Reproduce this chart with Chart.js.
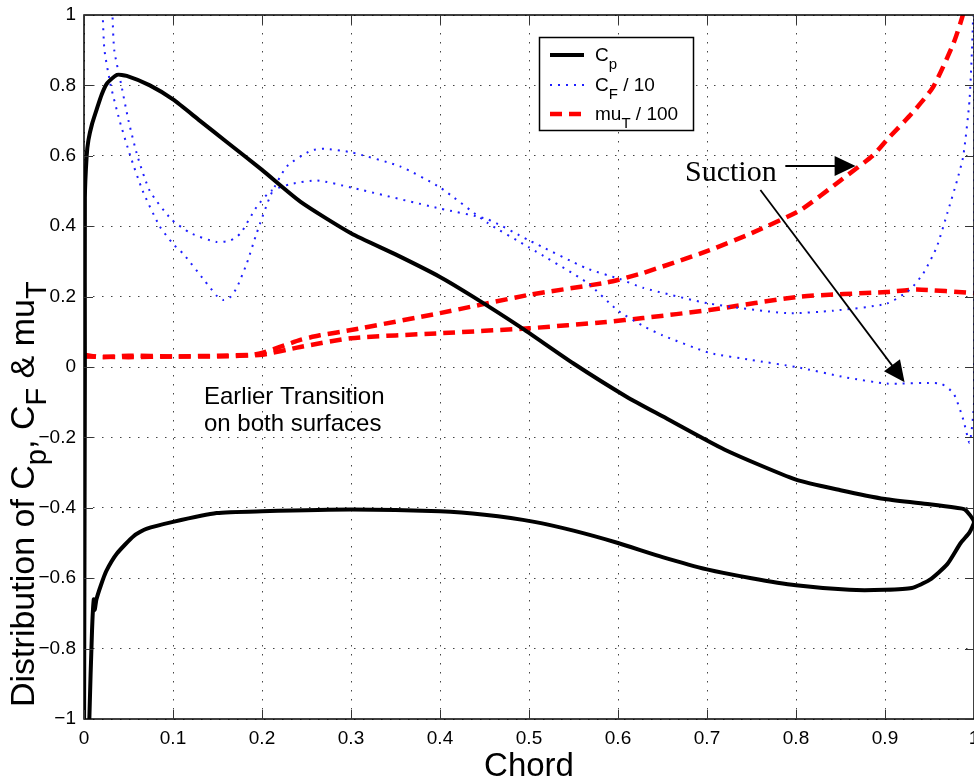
<!DOCTYPE html>
<html>
<head>
<meta charset="utf-8">
<script src="https://cdn.jsdelivr.net/npm/chart.js@4/dist/chart.umd.min.js"></script>
<style>
  body { margin: 0; background: #fff; }
  #graph { display: block; }
</style>
</head>
<body>
<canvas id="graph" width="974" height="782"></canvas>
<script>
// Cp: one closed loop, upper side then back along the lower side
const cpX = [0.000, 0.001, 0.001, 0.003, 0.005, 0.009, 0.014, 0.020, 0.026, 0.037, 0.048, 0.074, 0.100, 0.130, 0.160, 0.200, 0.243, 0.300, 0.350, 0.400, 0.437, 0.490, 0.550, 0.610, 0.650, 0.720, 0.800, 0.850, 0.900, 0.950, 0.980, 0.990, 1.000,
             0.995, 0.985, 0.970, 0.950, 0.930, 0.900, 0.860, 0.800, 0.750, 0.700, 0.650, 0.600, 0.550, 0.506, 0.450, 0.400, 0.300, 0.200, 0.149, 0.100, 0.070, 0.056, 0.037, 0.025, 0.019, 0.014, 0.012, 0.011, 0.009, 0.006, 0.005];
const cpY = [-1.10, 0.00, 0.48, 0.60, 0.645, 0.69, 0.73, 0.775, 0.806, 0.83, 0.827, 0.80, 0.76, 0.70, 0.64, 0.56, 0.47, 0.38, 0.32, 0.256, 0.20, 0.114, 0.01, -0.085, -0.14, -0.235, -0.32, -0.35, -0.375, -0.39, -0.40, -0.405, -0.44,
             -0.47, -0.50, -0.56, -0.605, -0.628, -0.633, -0.633, -0.62, -0.60, -0.575, -0.54, -0.50, -0.465, -0.44, -0.42, -0.41, -0.405, -0.41, -0.415, -0.44, -0.46, -0.48, -0.53, -0.58, -0.62, -0.66, -0.69, -0.66, -0.75, -1.00, -1.20];

// Cf / 10, first surface (peak near 0.62)
const cfAX = [0.000, 0.000, 0.019, 0.021, 0.023, 0.030, 0.040, 0.052, 0.066, 0.085, 0.100, 0.112, 0.135, 0.150, 0.157, 0.165, 0.172, 0.183, 0.194, 0.210, 0.228, 0.255, 0.270, 0.300, 0.355, 0.400, 0.453, 0.500, 0.565, 0.600, 0.628, 0.650, 0.703, 0.750, 0.800, 0.857, 0.902, 0.962, 0.977, 0.988, 0.995, 1.000, 1.000];
const cfAY = [-1.20, 1.60, 1.10, 1.00, 0.90, 0.80, 0.70, 0.60, 0.50, 0.40, 0.35, 0.32, 0.247, 0.20, 0.19, 0.20, 0.227, 0.295, 0.38, 0.49, 0.57, 0.615, 0.62, 0.61, 0.57, 0.51, 0.41, 0.34, 0.24, 0.16, 0.117, 0.09, 0.04, 0.02, 0.00, -0.03, -0.047, -0.047, -0.075, -0.15, -0.215, -0.10, 1.50];

// Cf / 10, second surface (plateau near 0.53)
const cfBX = [0.000, 0.030, 0.032, 0.034, 0.042, 0.050, 0.060, 0.074, 0.098, 0.120, 0.149, 0.165, 0.176, 0.194, 0.210, 0.233, 0.262, 0.300, 0.400, 0.453, 0.500, 0.565, 0.602, 0.628, 0.703, 0.790, 0.842, 0.902, 0.928, 0.943, 0.958, 0.970, 0.981, 0.988, 0.995, 0.999, 1.000];
const cfBY = [1.60, 1.15, 1.00, 0.90, 0.80, 0.70, 0.60, 0.50, 0.42, 0.38, 0.355, 0.36, 0.38, 0.455, 0.50, 0.52, 0.53, 0.51, 0.45, 0.42, 0.36, 0.28, 0.25, 0.225, 0.18, 0.153, 0.16, 0.18, 0.22, 0.266, 0.34, 0.437, 0.53, 0.60, 0.76, 1.00, 1.50];

// mu_T / 100, suction side
const muAX = [0.000, 0.020, 0.050, 0.100, 0.150, 0.190, 0.200, 0.220, 0.243, 0.265, 0.300, 0.400, 0.500, 0.587, 0.628, 0.703, 0.750, 0.805, 0.850, 0.886, 0.902, 0.930, 0.954, 0.977, 0.988, 0.995];
const muAY = [0.035, 0.028, 0.032, 0.030, 0.032, 0.035, 0.040, 0.057, 0.077, 0.090, 0.105, 0.153, 0.205, 0.240, 0.267, 0.332, 0.380, 0.446, 0.530, 0.600, 0.645, 0.720, 0.795, 0.920, 1.005, 1.100];

// mu_T / 100, pressure side
const muBX = [0.000, 0.050, 0.100, 0.150, 0.200, 0.243, 0.300, 0.400, 0.500, 0.587, 0.628, 0.703, 0.805, 0.902, 0.936, 1.000];
const muBY = [0.030, 0.028, 0.030, 0.030, 0.035, 0.057, 0.082, 0.096, 0.110, 0.128, 0.139, 0.162, 0.200, 0.213, 0.220, 0.210];

const xTicks = [0, 0.1, 0.2, 0.3, 0.4, 0.5, 0.6, 0.7, 0.8, 0.9, 1];
const yTicks = [-1, -0.8, -0.6, -0.4, -0.2, 0, 0.2, 0.4, 0.6, 0.8, 1];

// annotation arrows in data units: [x0, y0, x1, y1]
const arrows = [
    [0.788, 0.571, 0.867, 0.571],
    [0.760, 0.503, 0.922, -0.043]
];

function pts(xs, ys) {
    return xs.map((x, i) => ({ x: x, y: ys[i] }));
}

function fmt(v) {
    let r = Math.round(v * 10) / 10;
    if (r === 0) return '0';
    let s = Math.abs(r) === 1 ? '1' : Math.abs(r).toFixed(1);
    return (r < 0 ? '\u2212' : '') + s;
}

const FONT = '"Liberation Sans", Arial, sans-serif';
const BLUE = 'rgb(30,30,255)';
const RED = 'rgb(255,0,0)';
const cfDash = [2, 6];
const muDash = [12, 7];

// subscripted text along the current baseline
function drawSub(ctx, parts, x, y, big, small, drop) {
    parts.forEach(p => {
        if (p[1]) {
            ctx.font = small + 'px ' + FONT;
            ctx.fillText(p[0], x, y + drop);
        } else {
            ctx.font = big + 'px ' + FONT;
            ctx.fillText(p[0], x, y);
        }
        x += ctx.measureText(p[0]).width;
    });
}

function arrowHead(ctx, x0, y0, x1, y1, len, half) {
    let a = Math.atan2(y1 - y0, x1 - x0);
    ctx.beginPath();
    ctx.moveTo(x1, y1);
    ctx.lineTo(x1 - len * Math.cos(a) + half * Math.sin(a), y1 - len * Math.sin(a) - half * Math.cos(a));
    ctx.lineTo(x1 - len * Math.cos(a) - half * Math.sin(a), y1 - len * Math.sin(a) + half * Math.cos(a));
    ctx.closePath();
    ctx.fill();
}

const decorations = {
    id: 'decorations',
    afterDatasetsDraw(chart) {
        const ctx = chart.ctx;
        const area = chart.chartArea;
        const xs = chart.scales.x, ys = chart.scales.y;
        ctx.save();

        // axes box
        ctx.strokeStyle = '#000';
        ctx.lineWidth = 1.5;
        ctx.strokeRect(area.left, area.top, area.right - area.left, area.bottom - area.top);

        // inward ticks on all sides
        ctx.lineWidth = 1;
        ctx.strokeStyle = '#333';
        ctx.beginPath();
        xTicks.forEach(v => {
            let p = Math.round(xs.getPixelForValue(v)) + 0.5;
            ctx.moveTo(p, area.bottom); ctx.lineTo(p, area.bottom - 9);
            ctx.moveTo(p, area.top); ctx.lineTo(p, area.top + 9);
        });
        yTicks.forEach(v => {
            let p = Math.round(ys.getPixelForValue(v)) + 0.5;
            ctx.moveTo(area.left, p); ctx.lineTo(area.left + 9, p);
            ctx.moveTo(area.right, p); ctx.lineTo(area.right - 9, p);
        });
        ctx.stroke();

        // annotation text
        ctx.fillStyle = '#000';
        ctx.textBaseline = 'alphabetic';
        ctx.textAlign = 'left';
        ctx.font = '24px ' + FONT;
        ctx.fillText('Earlier Transition', 204, 404);
        ctx.fillText('on both surfaces', 204, 431);
        ctx.font = '30px "Liberation Serif", "Times New Roman", serif';
        ctx.fillText('Suction', 685, 181);

        // arrows
        ctx.strokeStyle = '#000';
        ctx.lineWidth = 1.8;
        arrows.forEach(a => {
            let x0 = xs.getPixelForValue(a[0]), y0 = ys.getPixelForValue(a[1]);
            let x1 = xs.getPixelForValue(a[2]), y1 = ys.getPixelForValue(a[3]);
            let ang = Math.atan2(y1 - y0, x1 - x0);
            ctx.beginPath();
            ctx.moveTo(x0, y0);
            ctx.lineTo(x1 - 15 * Math.cos(ang), y1 - 15 * Math.sin(ang));
            ctx.stroke();
            arrowHead(ctx, x0, y0, x1, y1, 21, 10);
        });

        // legend
        ctx.fillStyle = '#fff';
        ctx.fillRect(539, 37, 154, 93);
        ctx.strokeStyle = '#000';
        ctx.lineWidth = 1.5;
        ctx.strokeRect(539.5, 37.5, 154, 93);
        const rows = [
            { y: 55, color: '#000', width: 4, dash: [], text: [['C', 0], ['p', 1]] },
            { y: 85, color: BLUE, width: 2, dash: cfDash, text: [['C', 0], ['F', 1], [' / 10', 0]] },
            { y: 114, color: RED, width: 4.5, dash: muDash, text: [['mu', 0], ['T', 1], [' / 100', 0]] }
        ];
        rows.forEach(r => {
            ctx.strokeStyle = r.color;
            ctx.lineWidth = r.width;
            ctx.setLineDash(r.dash);
            ctx.beginPath();
            ctx.moveTo(550, r.y); ctx.lineTo(584, r.y);
            ctx.stroke();
            ctx.setLineDash([]);
            ctx.fillStyle = '#000';
            drawSub(ctx, r.text, 595, r.y + 6, 19, 15, 8);
        });

        // y-axis title with subscripts
        ctx.save();
        ctx.translate(34, 707);
        ctx.rotate(-Math.PI / 2);
        ctx.fillStyle = '#000';
        drawSub(ctx, [['Distribution of C', 0], ['p', 1], [', C', 0], ['F', 1], [' & mu', 0], ['T', 1]], 0, 0, 34, 29, 12);
        ctx.restore();

        ctx.restore();
    }
};

const ctx = document.getElementById('graph').getContext('2d');
const chart = new Chart(ctx, {
    type: 'line',
    data: {
        datasets: [{
            label: 'Cp',
            data: pts(cpX, cpY),
            borderColor: '#000',
            borderWidth: 4,
            pointRadius: 0,
            tension: 0.2
        }, {
            label: 'Cf / 10 a',
            data: pts(cfAX, cfAY),
            borderColor: BLUE,
            borderWidth: 2,
            borderDash: cfDash,
            pointRadius: 0,
            tension: 0.2
        }, {
            label: 'Cf / 10 b',
            data: pts(cfBX, cfBY),
            borderColor: BLUE,
            borderWidth: 2,
            borderDash: cfDash,
            pointRadius: 0,
            tension: 0.2
        }, {
            label: 'muT / 100 a',
            data: pts(muAX, muAY),
            borderColor: RED,
            borderWidth: 4.5,
            borderDash: muDash,
            pointRadius: 0,
            tension: 0.2
        }, {
            label: 'muT / 100 b',
            data: pts(muBX, muBY),
            borderColor: RED,
            borderWidth: 4.5,
            borderDash: muDash,
            pointRadius: 0,
            tension: 0.2
        }]
    },
    options: {
        responsive: false,
        animation: false,
        layout: { padding: { top: 15, right: 0, bottom: 0, left: 0 } },
        plugins: {
            legend: { display: false },
            tooltip: { enabled: false }
        },
        scales: {
            x: {
                type: 'linear',
                min: 0,
                max: 1,
                afterBuildTicks: s => { s.ticks = xTicks.map(v => ({ value: v })); },
                afterFit: s => { s.height = 63; s.paddingLeft = 0; s.paddingRight = 0; },
                ticks: {
                    autoSkip: false,
                    maxRotation: 0,
                    padding: 8,
                    color: '#000',
                    font: { family: FONT, size: 19 },
                    callback: v => fmt(v)
                },
                grid: { color: '#444', lineWidth: 1, drawTicks: false },
                border: { display: false, dash: [1.5, 7.5] },
                title: {
                    display: true,
                    text: 'Chord',
                    color: '#000',
                    font: { family: FONT, size: 33 },
                    padding: { top: 5, bottom: -5 }
                }
            },
            y: {
                type: 'linear',
                min: -1,
                max: 1,
                afterBuildTicks: s => { s.ticks = yTicks.map(v => ({ value: v })); },
                afterFit: s => { s.width = 84; s.paddingTop = 0; s.paddingBottom = 0; },
                ticks: {
                    autoSkip: false,
                    padding: 8,
                    color: '#000',
                    font: { family: FONT, size: 19 },
                    callback: v => fmt(v)
                },
                grid: { color: '#444', lineWidth: 1, drawTicks: false },
                border: { display: false, dash: [1.5, 7.5] }
            }
        }
    },
    plugins: [decorations]
});
</script>
</body>
</html>
